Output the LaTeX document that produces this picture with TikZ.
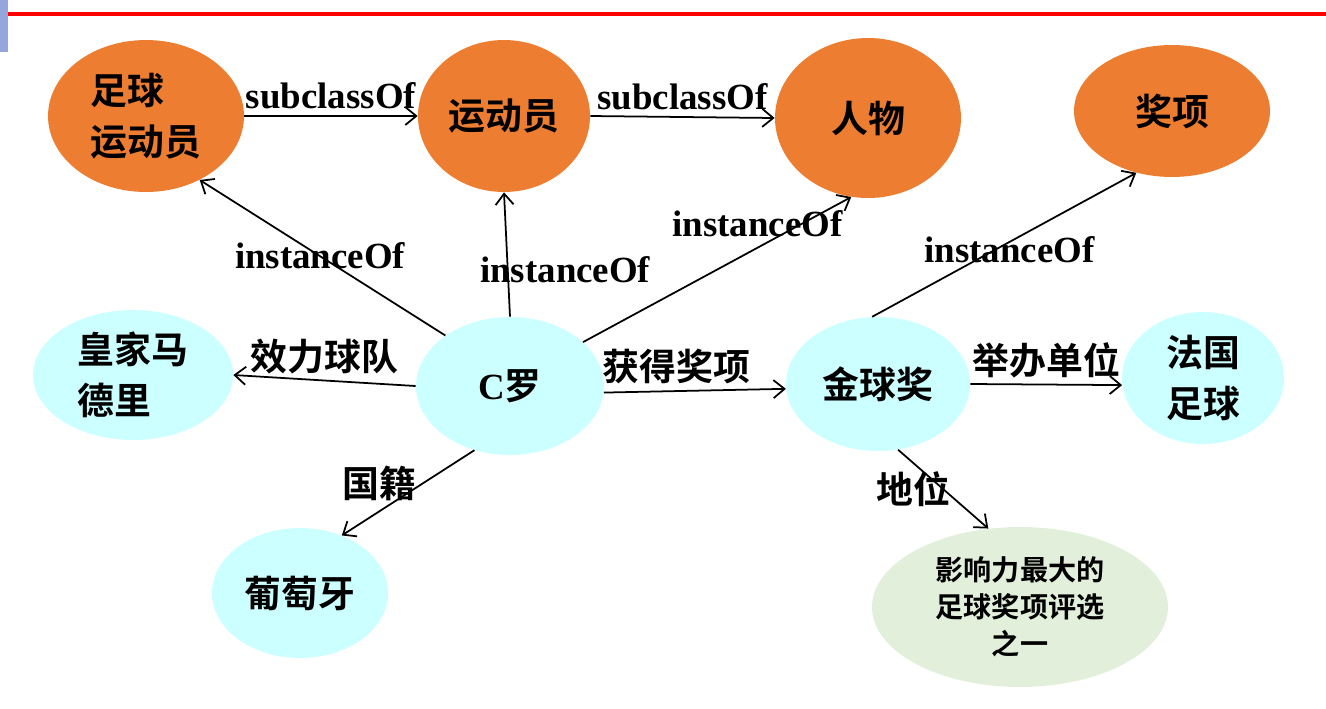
\documentclass[tikz,border=0pt]{standalone}
\usepackage{fontspec}
\setmainfont{Liberation Serif}
\newfontfamily\cjk{Noto Sans CJK SC}[BoldFont=* Bold]
\usetikzlibrary{shapes.geometric, arrows.meta}
\definecolor{clsfill}{HTML}{ED7D31}
\definecolor{entfill}{HTML}{CCFFFF}
\definecolor{litfill}{HTML}{E2EFDA}
\definecolor{barblue}{HTML}{94A6DC}

\begin{document}
\begin{tikzpicture}[x=0.02cm, y=-0.02cm,
    c/.style={ellipse, fill=clsfill, inner sep=0pt, align=left, font=\cjk\bfseries\fontsize{21}{29}\selectfont},
    e/.style={ellipse, fill=entfill, inner sep=0pt, align=left, font=\cjk\bfseries\fontsize{21}{29}\selectfont},
    a/.style={-{Straight Barb[length=2.2mm, width=3.6mm]}, line width=1pt},
    lat/.style={font=\rmfamily\bfseries\fontsize{21}{25}\selectfont},
    zh/.style={font=\cjk\bfseries\fontsize{21}{25}\selectfont},
]
\useasboundingbox (0,0) rectangle (1326,708);
\fill[red] (0,12) rectangle (1326,16);
\fill[barblue] (0,0) rectangle (8,52);

% classes
\node[c, minimum width=3.92cm, minimum height=3.04cm] (player) at (146,116) {足球\\运动员};
\node[c, minimum width=3.44cm, minimum height=3.04cm] (athlete) at (504,116) {运动员};
\node[c, minimum width=3.72cm, minimum height=3.2cm] (person) at (868,118) {人物};
\node[c, minimum width=3.92cm, minimum height=2.64cm] (award) at (1172,111) {奖项};

% instances
\node[e, minimum width=4cm, minimum height=2.6cm] (real) at (133,375) {皇家马\\德里};
\node[e, minimum width=3.76cm, minimum height=2.76cm] (cr) at (510,386) {{\rmfamily C}罗};
\node[e, minimum width=3.68cm, minimum height=2.68cm] (ballon) at (878,384) {金球奖};
\node[e, minimum width=3.24cm, minimum height=2.64cm] (france) at (1203,378) {法国\\足球};
\node[e, minimum width=3.52cm, minimum height=2.6cm] (portugal) at (300,593) {葡萄牙};
\node[ellipse, fill=litfill, inner sep=0pt, align=center, minimum width=5.92cm, minimum height=3.2cm,
      font=\cjk\bfseries\fontsize{16}{21}\selectfont] (status) at (1020,607) {影响力最大的\\足球奖项评选\\之一};

% edges
\draw[a] (player.east) -- (athlete.west) node[midway, above, lat] {subclassOf};
\draw[a] (athlete.east) -- (person.west) node[midway, above, lat] {subclassOf};
\draw[a] (cr.142) -- (player.-50) node[pos=0.51, lat] {instanceOf};
\draw[a] (cr.north) -- (athlete.south) node[pos=0.38, xshift=1.15cm, lat] {instanceOf};
\draw[a] (cr.31) -- (person.258) node[pos=0.65, yshift=0.48cm, lat] {instanceOf};
\draw[a] (ballon.95) -- (award.240) node[pos=0.52, yshift=-0.16cm, lat] {instanceOf};
\draw[a] (cr.west) -- (real.east) node[midway, above, zh] {效力球队};
\draw[a] (cr.-4) -- (ballon.183) node[pos=0.4, above, zh] {获得奖项};
\draw[a] (ballon.east) -- (france.185) node[midway, above, zh] {举办单位};
\draw[a] (cr.241) -- (portugal.54) node[pos=0.39, left, zh] {国籍};
\draw[a] (ballon.-73) -- (status.112) node[pos=0.5, xshift=-0.6cm, zh] {地位};
\end{tikzpicture}
\end{document}
